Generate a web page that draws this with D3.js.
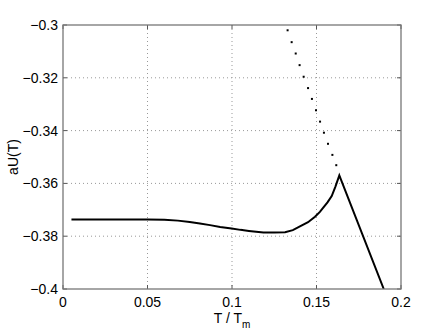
<!DOCTYPE html>
<html>
<head>
<meta charset="utf-8">
<script src="https://cdn.jsdelivr.net/npm/d3@7"></script>
<style>
  body { margin: 0; background: #fff; }
  svg { display: block; font-family: "Liberation Sans", Arial, sans-serif; }
</style>
</head>
<body>
<div id="chart"></div>
<script>
// solid curve
var curveT = [0.005, 0.02, 0.04, 0.05, 0.06, 0.068, 0.075, 0.081, 0.087, 0.093, 0.0998, 0.105, 0.11, 0.1186, 0.1250, 0.1314, 0.1360, 0.1402, 0.1450, 0.1491, 0.1520, 0.1540, 0.1565, 0.1590, 0.1612, 0.1635, 0.1898];
var curveU = [-0.3737, -0.3737, -0.3737, -0.3737, -0.3738, -0.3741, -0.3746, -0.3752, -0.3758, -0.3765, -0.3771, -0.3776, -0.3780, -0.3786, -0.3786, -0.3785, -0.3777, -0.3763, -0.3747, -0.3726, -0.3708, -0.3692, -0.3672, -0.3648, -0.3612, -0.3570, -0.4];

// dotted branch
var dotT = [0.1329, 0.1353, 0.1377, 0.1400, 0.1424, 0.1450, 0.1473, 0.1497, 0.1521, 0.1544, 0.1568, 0.1594, 0.1617];
var dotU = [-0.3020, -0.3065, -0.3108, -0.3152, -0.3196, -0.3239, -0.3280, -0.3323, -0.3366, -0.3408, -0.3450, -0.3492, -0.3531];

var xTicks = [0, 0.05, 0.1, 0.15, 0.2];
var xTickLabels = ["0", "0.05", "0.1", "0.15", "0.2"];
var yTicks = [-0.3, -0.32, -0.34, -0.36, -0.38, -0.4];
var yTickLabels = ["\u22120.3", "\u22120.32", "\u22120.34", "\u22120.36", "\u22120.38", "\u22120.4"];

var W = 443, H = 333;
var margin = { top: 25, right: 42, bottom: 44, left: 63 };
var width = W - margin.left - margin.right;
var height = H - margin.top - margin.bottom;

var x = d3.scaleLinear().domain([0, 0.2]).range([0, width]);
var y = d3.scaleLinear().domain([-0.4, -0.3]).range([height, 0]);

var svg = d3.select("#chart").append("svg")
    .attr("width", W)
    .attr("height", H)
    .append("g")
    .attr("transform", "translate(" + margin.left + "," + margin.top + ")");

svg.append("defs").append("clipPath").attr("id", "clip")
    .append("rect").attr("width", width).attr("height", height);

// grid
svg.append("g").selectAll("line").data(xTicks.slice(1, -1)).enter().append("line")
    .attr("x1", function (d) { return x(d); }).attr("x2", function (d) { return x(d); })
    .attr("y1", 0).attr("y2", height)
    .style("stroke", "#999").style("stroke-dasharray", "1,3");
svg.append("g").selectAll("line").data(yTicks.slice(1, -1)).enter().append("line")
    .attr("y1", function (d) { return y(d); }).attr("y2", function (d) { return y(d); })
    .attr("x1", 0).attr("x2", width)
    .style("stroke", "#999").style("stroke-dasharray", "1,3");

// inward ticks on all four sides
var tk = 4;
var ticks = svg.append("g").style("stroke", "#555").style("stroke-width", 1);
xTicks.forEach(function (d) {
    ticks.append("line").attr("x1", x(d)).attr("x2", x(d)).attr("y1", height).attr("y2", height - tk);
    ticks.append("line").attr("x1", x(d)).attr("x2", x(d)).attr("y1", 0).attr("y2", tk);
});
yTicks.forEach(function (d) {
    ticks.append("line").attr("y1", y(d)).attr("y2", y(d)).attr("x1", 0).attr("x2", tk);
    ticks.append("line").attr("y1", y(d)).attr("y2", y(d)).attr("x1", width).attr("x2", width - tk);
});

// data
var curve = curveT.map(function (t, i) { return [t, curveU[i]]; });
var line = d3.line()
    .x(function (d) { return x(d[0]); })
    .y(function (d) { return y(d[1]); });

svg.append("path")
    .datum(curve)
    .attr("clip-path", "url(#clip)")
    .attr("d", line)
    .style("fill", "none")
    .style("stroke", "#000")
    .style("stroke-width", 2)
    .style("stroke-linejoin", "miter");

svg.append("g").selectAll("rect").data(dotT).enter().append("rect")
    .attr("x", function (d) { return x(d) - 1; })
    .attr("y", function (d, i) { return y(dotU[i]) - 1; })
    .attr("width", 2).attr("height", 2)
    .style("fill", "#000");

// frame
svg.append("rect")
    .attr("width", width).attr("height", height)
    .style("fill", "none").style("stroke", "#777").style("stroke-width", 1.3);

// tick labels
svg.append("g").selectAll("text").data(xTicks).enter().append("text")
    .attr("x", function (d) { return x(d); })
    .attr("y", height + 18)
    .attr("text-anchor", "middle")
    .style("font-size", "14px")
    .text(function (d, i) { return xTickLabels[i]; });

svg.append("g").selectAll("text").data(yTicks).enter().append("text")
    .attr("x", -5)
    .attr("y", function (d) { return y(d) + 5; })
    .attr("text-anchor", "end")
    .style("font-size", "14px")
    .text(function (d, i) { return yTickLabels[i]; });

// axis titles
var xl = svg.append("text")
    .attr("x", width / 2)
    .attr("y", height + 34)
    .attr("text-anchor", "middle")
    .style("font-size", "14px");
xl.append("tspan").text("T / T");
xl.append("tspan").attr("dy", 5).style("font-size", "10px").text("m");

svg.append("text")
    .attr("transform", "translate(" + (-margin.left + 18) + "," + (height / 2) + ") rotate(-90)")
    .attr("text-anchor", "middle")
    .style("font-size", "14px")
    .text("aU(T)");
</script>
</body>
</html>
